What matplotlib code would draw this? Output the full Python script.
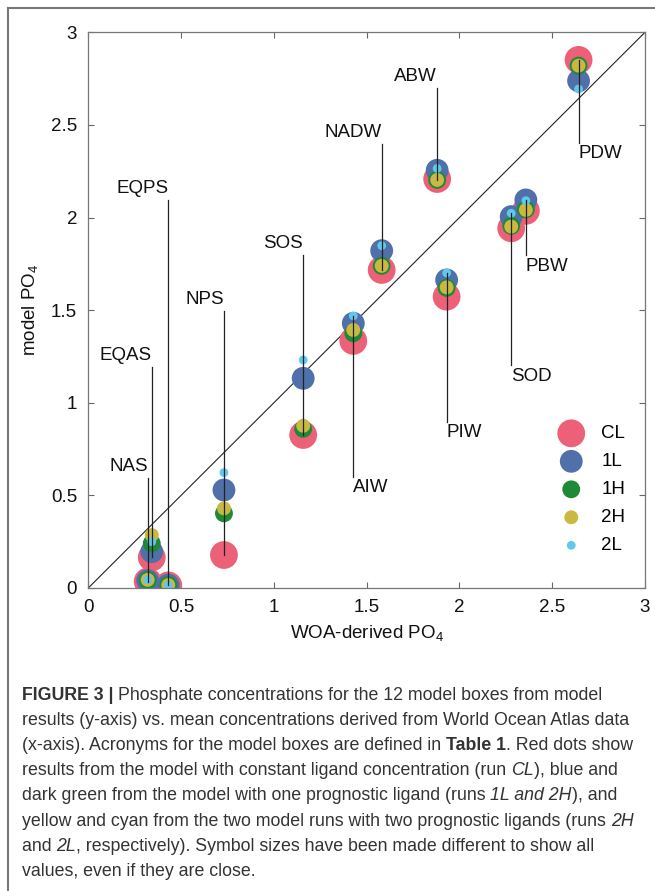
import matplotlib
matplotlib.use("Agg")
import matplotlib.pyplot as plt
from matplotlib.lines import Line2D

plt.rcParams['font.family'] = ['Liberation Sans', 'DejaVu Sans']
plt.rcParams['mathtext.fontset'] = 'custom'
plt.rcParams['mathtext.rm'] = 'Liberation Sans'
plt.rcParams['mathtext.default'] = 'regular'

# model boxes, WOA-derived PO4 (x) and model PO4 for each run (y)
boxes = ['PDW', 'ABW', 'NADW', 'PIW', 'SOD', 'PBW', 'AIW', 'SOS', 'NPS', 'EQAS', 'NAS', 'EQPS']
woa = [2.642, 1.880, 1.581, 1.931, 2.279, 2.358, 1.428, 1.158, 0.731, 0.342, 0.320, 0.431]
run_CL = [2.851, 2.208, 1.717, 1.573, 1.942, 2.036, 1.334, 0.826, 0.178, 0.165, 0.035, 0.014]
run_1L = [2.738, 2.255, 1.821, 1.663, 2.005, 2.095, 1.429, 1.132, 0.529, 0.196, 0.040, 0.016]
run_1H = [2.820, 2.203, 1.739, 1.620, 1.955, 2.044, 1.375, 0.859, 0.403, 0.241, 0.042, 0.016]
run_2H = [2.820, 2.203, 1.739, 1.623, 1.951, 2.041, 1.393, 0.876, 0.430, 0.286, 0.044, 0.016]
run_2L = [2.694, 2.265, 1.848, 1.701, 2.023, 2.091, 1.469, 1.231, 0.623, 0.250, 0.044, 0.016]

# where each label line ends, and whether the label sits above (1) or below (-1)
label_y = [2.403, 2.700, 2.397, 0.898, 1.204, 1.798, 0.601, 1.798, 1.497, 1.195, 0.594, 2.095]
label_side = [-1, 1, 1, -1, -1, -1, -1, 1, 1, 1, 1, 1]

runs = ['CL', '1L', '1H', '2H', '2L']
run_vals = [run_CL, run_1L, run_1H, run_2H, run_2L]
colors = ['#EC6178', '#5070AA', '#1F8A35', '#C9B943', '#5FC8EB']
sizes = [400, 270, 165, 100, 40]

fig = plt.figure(figsize=(6.55, 8.91), dpi=100)
W, H = 655.0, 891.0
ax = fig.add_axes([88.3 / W, 1 - 588 / H, 556.7 / W, 555.7 / H])

ax.plot([0, 3], [0, 3], color='#222222', lw=0.8, zorder=1)

for name, vals, c, s in zip(runs, run_vals, colors, sizes):
    ax.scatter(woa, vals, s=s, color=c, edgecolors='none', label=name, zorder=2)

for i, b in enumerate(boxes):
    vals = [v[i] for v in run_vals]
    far = min(vals) if label_side[i] > 0 else max(vals)
    ax.plot([woa[i], woa[i]], [far, label_y[i]], color='#222222', lw=0.9, zorder=3)
    ax.annotate(b, (woa[i], label_y[i]), xytext=(0, 8 * label_side[i]),
                textcoords='offset points', ha='right' if label_side[i] > 0 else 'left',
                va='center', fontsize=13.5, color='#111111')

ax.set_xlim(0, 3)
ax.set_ylim(0, 3)
ax.set_xticks([0, 0.5, 1, 1.5, 2, 2.5, 3])
ax.set_xticklabels(['0', '0.5', '1', '1.5', '2', '2.5', '3'])
ax.set_yticks([0, 0.5, 1, 1.5, 2, 2.5, 3])
ax.set_yticklabels(['0', '0.5', '1', '1.5', '2', '2.5', '3'])
ax.tick_params(direction='in', top=True, right=True, length=4, width=0.8,
               color='#666666', labelsize=13.5, labelcolor='#111111', pad=8)
for sp in ax.spines.values():
    sp.set_color('#777777')
    sp.set_linewidth(0.9)
ax.set_xlabel('WOA-derived PO$_4$', fontsize=13.5, labelpad=5, color='#111111')
ax.set_ylabel('model PO$_4$', fontsize=13.5, labelpad=8, color='#111111')

ax.legend(frameon=False, loc='upper left', bbox_to_anchor=(0.817, 0.31), fontsize=13.5,
          labelspacing=0.58, handletextpad=0.6, borderpad=0, scatterpoints=1)

# frame around figure + caption
fig.add_artist(Line2D([7.5 / W, 7.5 / W], [0, 1 - 8 / H], color='#777777', lw=1.5))
fig.add_artist(Line2D([7.5 / W, 1], [1 - 8 / H, 1 - 8 / H], color='#777777', lw=1.5))

cap_font = ['Liberation Sans Narrow', 'Liberation Sans', 'DejaVu Sans']
caption = [
    [('FIGURE 3 | ', 'bold', 'normal'), ('Phosphate concentrations for the 12 model boxes from model', 'normal', 'normal')],
    [('results (y-axis) vs. mean concentrations derived from World Ocean Atlas data', 'normal', 'normal')],
    [('(x-axis). Acronyms for the model boxes are defined in ', 'normal', 'normal'), ('Table 1', 'bold', 'normal'),
     ('. Red dots show', 'normal', 'normal')],
    [('results from the model with constant ligand concentration (run ', 'normal', 'normal'), ('CL', 'normal', 'italic'),
     ('), blue and', 'normal', 'normal')],
    [('dark green from the model with one prognostic ligand (runs ', 'normal', 'normal'), ('1L and 2H', 'normal', 'italic'),
     ('), and', 'normal', 'normal')],
    [('yellow and cyan from the two model runs with two prognostic ligands (runs ', 'normal', 'normal'),
     ('2H', 'normal', 'italic')],
    [('and ', 'normal', 'normal'), ('2L', 'normal', 'italic'),
     (', respectively). Symbol sizes have been made different to show all', 'normal', 'normal')],
    [('values, even if they are close.', 'normal', 'normal')],
]
renderer = fig.canvas.get_renderer()
for k, parts in enumerate(caption):
    y = 1 - (695 + 25.2 * k) / H
    x = 22.0
    for txt, wt, st in parts:
        t = fig.text(x / W, y, txt, family=cap_font, fontsize=12.8, weight=wt, style=st,
                     color='#333333', va='center', ha='left')
        x += t.get_window_extent(renderer).width

fig.savefig('out.png', dpi=100)
